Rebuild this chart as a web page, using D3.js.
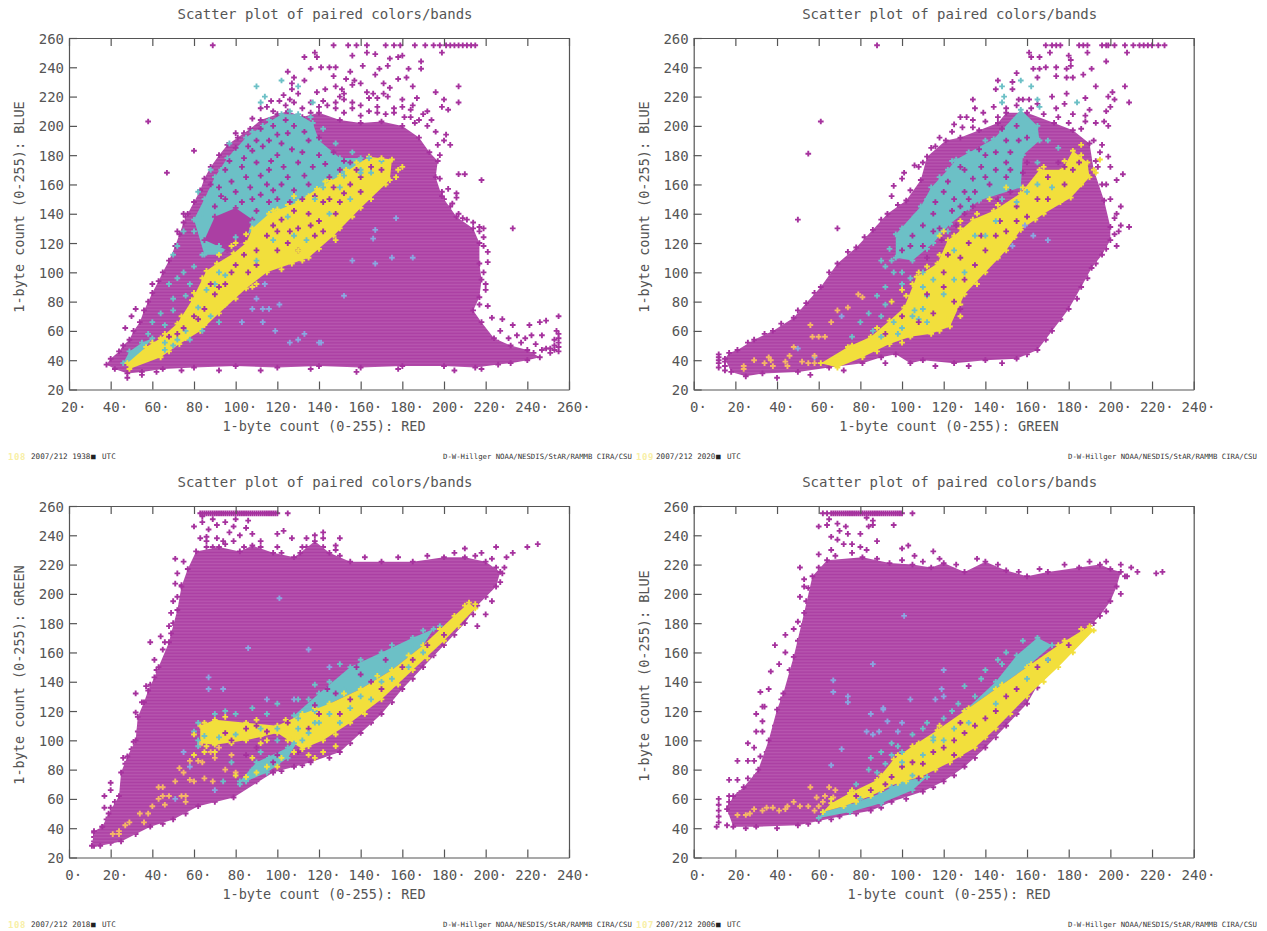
<!DOCTYPE html>
<html>
<head>
<meta charset="utf-8">
<title>Scatter plot of paired colors/bands</title>
<script src="https://cdn.jsdelivr.net/npm/d3@7"></script>
<style>
  html, body { margin: 0; padding: 0; background: #fff; }
  svg { display: block; }
  text { font-family: "DejaVu Sans Mono", monospace; fill: #555; }
</style>
</head>
<body>
<svg width="1267" height="931"></svg>
<script>
// tick labels
const ticks20 = [20, 40, 60, 80, 100, 120, 140, 160, 180, 200, 220, 240, 260];
const ticks0 = [0, 20, 40, 60, 80, 100, 120, 140, 160, 180, 200, 220, 240];
const yTicks = [20, 40, 60, 80, 100, 120, 140, 160, 180, 200, 220, 240, 260];

// ---- RED / BLUE, 1938 UTC ----
const a_purpleOutline = [[38,37],[40,41],[44,46],[46,50],[49,54],[51,60],[54,66],[56,74],[58,80],[60,86],[63,94],[65,100],[68,108],[71,118],[73,126],[75,134],[77,140],[80,148],[83,156],[85,164],[88,172],[92,180],[96,187],[101,192],[107,198],[112,204],[120,208],[125,210],[132,206],[140,209],[150,204],[160,202],[170,203],[180,200],[188,192],[193,182],[197,176],[196,165],[199,152],[206,138],[214,130],[217,120],[217,106],[218,95],[217,83],[214,74],[218,66],[224,55],[232,50],[240,47],[246,42],[240,40],[232,38],[226,37],[215,35],[200,36],[180,36],[160,35],[140,36],[120,35],[100,36],[80,35],[65,34],[55,32],[48,31],[42,34]];
const a_cyanOutline = [[80,136],[85,150],[90,165],[96,178],[105,192],[113,200],[122,208],[130,208],[137,202],[140,190],[150,178],[160,178],[165,172],[150,160],[135,148],[118,138],[108,128],[98,118],[92,112],[85,112]];
const a_cyanFoot = [[46,38],[49,46],[55,52],[60,55],[54,44],[50,38]];
const a_purpleBlotch = [[85,122],[90,138],[100,144],[108,136],[105,122],[96,115]];
const a_yellowOutline = [[48,38],[57,49],[64,55],[72,65],[79,81],[86,101],[91,106],[99,113],[105,120],[108,130],[116,140],[130,148],[139,157],[150,166],[164,179],[175,177],[174,163],[160,144],[147,125],[135,110],[127,106],[115,100],[105,89],[92,72],[83,60],[73,51],[64,42],[49,34]];
const a_purplePts = [[89,255],[58,203],[80,183],[67,168],[133,247],[138,250],[139,247],[136,239],[125,237],[128,233],[133,231],[127,229],[127,225],[130,222],[123,221],[139,223],[126,218],[117,217],[115,213],[121,217],[128,216],[147,255],[154,255],[158,255],[163,255],[172,255],[176,255],[179,255],[186,255],[191,255],[195,255],[198,255],[201,255],[203,255],[205,255],[207,255],[209,255],[211,255],[213,255],[215,255],[163,250],[167,249],[156,248],[180,248],[178,247],[174,246],[189,244],[199,250],[161,241],[173,241],[141,240],[145,240],[148,240],[189,239],[183,239],[169,239],[155,237],[167,235],[147,234],[178,232],[182,233],[153,232],[157,231],[171,229],[160,229],[156,228],[207,227],[148,227],[185,227],[143,225],[151,225],[174,226],[163,223],[171,222],[196,223],[152,222],[166,222],[150,220],[164,219],[173,220],[168,219],[187,219],[180,218],[200,218],[207,216],[185,214],[199,213],[202,211],[152,218],[156,216],[184,211],[176,209],[168,209],[181,206],[192,210],[201,194],[197,187],[203,187],[207,167],[210,167],[198,164],[218,163],[202,157],[199,155],[206,154],[206,151],[204,147],[209,137],[233,130],[219,130],[217,128],[212,129],[221,114],[221,107],[221,77],[223,69],[228,68],[233,64],[241,64],[246,66],[249,67],[255,70],[254,60],[247,57],[242,57],[239,55],[235,57],[227,60],[244,51],[249,48],[255,58],[255,55],[255,52],[255,49],[255,46],[253,54],[253,50],[253,47],[251,48],[251,45],[247,47],[243,45],[237,52],[231,55],[226,52],[75,140],[72,128],[60,92],[42,40]];
const a_purpleEdge = [[132,212],[136,209],[140,213],[144,214],[148,212],[152,209],[156,212],[160,207],[164,210],[168,213],[172,208],[176,212],[180,213],[184,206],[188,204],[192,200],[196,196],[194,204],[190,208],[186,202],[200,190],[198,180],[108,205],[115,203],[104,195],[101,188],[99,181],[83,151],[76,138],[52,75],[50,70],[47,62],[200,150],[203,145],[207,140],[211,136],[214,134],[217,131],[219,124],[219,118],[219,100],[220,92],[220,88],[217,78],[48,28],[55,30],[62,32],[74,33],[92,33],[112,33],[136,34],[158,32],[178,34],[205,33],[218,34],[112,212],[118,210],[124,214],[136,216],[142,217],[148,216],[160,214]];
const a_cyanPts = [[122,231],[110,227],[130,227],[114,220],[112,216],[137,216],[97,188],[88,170],[82,155],[75,128],[72,118],[70,112],[75,100],[72,96],[68,92],[80,104],[84,112],[78,92],[70,82],[76,84],[64,72],[70,74],[60,66],[66,64],[58,58],[86,88],[90,92],[92,100],[82,76],[88,70],[92,66],[84,60],[76,60],[70,50],[78,54],[66,47]];
const a_cyanEdge = [[84,140],[88,155],[93,170],[100,182],[108,196],[116,204],[126,210],[136,206],[142,198],[148,188],[156,182],[164,178],[170,176],[160,170],[152,166],[142,158],[130,152],[118,145],[108,134],[100,124],[92,118],[86,118],[80,128]];
const a_bluePts = [[114,92],[110,82],[121,78],[116,75],[113,75],[108,75],[103,66],[113,66],[119,60],[133,58],[130,54],[126,52],[140,52],[152,84],[156,108],[167,106],[175,110],[185,110],[166,123],[141,52],[177,137],[167,129]];
const a_purpleOnTop = [[95,170],[100,185],[110,190],[118,200],[125,195],[135,190],[110,175],[120,180],[130,175],[140,180],[150,170],[105,165],[115,160],[125,165],[135,160],[100,155],[95,150],[108,150],[120,150],[132,150],[90,145],[110,142],[128,142],[145,165],[155,175],[88,160],[100,195],[112,198],[128,200],[140,192],[122,188],[116,170],[104,178],[92,158],[120,128],[130,130],[135,140],[145,150],[150,148],[125,120],[110,115],[100,105],[95,92],[140,135],[155,160],[160,165],[148,140],[138,125],[115,125],[90,85],[85,75],[160,155],[170,170],[130,115],[80,70],[75,62],[68,56],[88,92],
[97,176],[103,172],[108,183],[113,186],[117,176],[123,172],[127,184],[132,182],[137,172],[143,174],[147,182],[152,176],[93,152],[98,162],[107,158],[112,153],[118,156],[122,160],[128,156],[133,166],[138,152],[142,148],[126,148],[116,148],[103,148],[112,166],[120,194],[116,190],[106,186],[124,204],[133,196],[118,132],[122,136],[126,128],[136,132],[142,128],[152,154],[147,158],[165,172],[158,170],[104,112],[106,100],[98,100],[92,90],[82,68],[72,58],[110,105],[120,115]];
const a_yellowPts = [[172,160],[178,170],[130,115],[127,108],[120,108],[108,90],[100,120],[120,143],[153,170],[143,162],[128,152],[112,108],[95,78],[86,68],[180,172]];
const a_yellowEdge = [[60,52],[66,58],[74,70],[80,86],[84,96],[92,112],[98,118],[110,128],[118,142],[125,146],[135,152],[145,163],[158,175],[170,178],[172,170],[170,160],[156,138],[148,122],[140,116],[132,108],[122,102],[110,92],[100,82],[92,75],[85,64],[76,55],[68,46],[112,132],[105,126],[150,130],[158,148],[165,150],[177,165]];
const a_cyanOnYellow = [[125,138],[138,150],[150,158],[118,122],[128,125],[145,140],[155,150],[160,168],[95,98],[66,52],[72,54],[134,122],[110,108],[165,168]];

// ---- GREEN / BLUE, 2020 UTC ----
const b_purpleOutline = [[15,41],[17,45],[21,47],[29,54],[38,60],[48,69],[54,79],[61,90],[69,106],[78,117],[86,129],[93,140],[102,149],[109,163],[112,179],[121,190],[128,192],[137,197],[146,202],[150,209],[160,209],[173,202],[182,197],[190,188],[192,170],[197,149],[200,131],[200,122],[196,112],[191,103],[186,90],[180,75],[172,60],[165,47],[155,41],[140,40],[125,38],[110,40],[104,38],[97,44],[90,42],[81,38],[65,35],[50,32],[33,31],[25,29],[18,32]];
const b_cyanOutline = [[157,211],[165,200],[166,190],[158,180],[157,158],[137,149],[123,133],[115,120],[105,108],[97,110],[97,126],[109,145],[114,158],[122,170],[126,177],[144,191]];
const b_yellowOutline = [[61,38],[69,35],[81,42],[94,51],[104,56],[114,58],[123,63],[130,85],[140,100],[150,115],[157,129],[168,140],[181,151],[190,165],[189,175],[182,183],[177,170],[166,170],[157,154],[144,142],[134,136],[125,125],[122,122],[117,106],[107,97],[101,76],[94,67],[85,56],[74,49]];
const b_purplePts = [[88,255],[61,203],[55,181],[50,136],[69,130],[106,173],[110,175],[114,185],[101,168],[100,164],[96,159],[95,152],[169,255],[172,255],[174,255],[176,255],[185,255],[187,255],[189,255],[196,255],[198,255],[199,255],[202,255],[207,255],[211,255],[214,255],[216,255],[218,255],[220,255],[223,255],[226,255],[161,250],[162,247],[166,247],[171,250],[180,248],[181,245],[189,250],[198,244],[208,250],[174,240],[181,241],[179,239],[191,239],[163,239],[166,239],[169,240],[155,236],[165,233],[174,234],[179,233],[182,233],[187,235],[146,231],[153,230],[193,227],[207,227],[145,225],[153,225],[201,223],[179,222],[199,220],[202,218],[188,219],[209,216],[134,218],[156,218],[161,218],[172,220],[200,213],[198,210],[144,213],[135,212],[190,211],[128,206],[131,206],[139,209],[188,207],[197,203],[193,202],[125,201],[199,200],[129,199],[134,199],[196,187],[199,179],[200,172],[206,167],[203,163],[205,145],[202,137],[209,131],[12,44],[12,42],[12,40],[12,38],[12,35],[15,36],[15,33],[15,39],[194,150],[196,160],[193,176],[205,132],[204,128],[203,118]];
const b_purpleEdge = [[118,192],[124,196],[116,186],[108,172],[104,156],[98,146],[90,136],[82,124],[74,114],[65,100],[58,86],[50,74],[42,65],[34,58],[26,52],[150,212],[155,214],[162,212],[168,208],[175,206],[180,202],[186,198],[192,190],[195,182],[194,172],[198,160],[200,150],[203,140],[202,126],[198,116],[193,106],[189,96],[184,82],[176,68],[169,54],[160,44],[148,38],[132,36],[116,36],[92,38],[72,33],[56,30],[40,28],[146,206],[140,203],[134,204],[174,212],[182,208],[188,203],[165,215],[158,218],[178,215]];
const b_cyanPts = [[148,227],[149,220],[157,231],[162,227],[165,218],[184,216],[166,213],[148,216],[92,104],[96,100],[100,92],[88,84],[92,90],[84,72],[90,70],[92,78],[80,66],[86,60],[76,56],[96,66],[100,62],[106,74],[108,68],[110,90],[112,84],[170,190],[175,185],[165,175]];
const b_cyanEdge = [[94,116],[100,130],[106,138],[112,150],[118,165],[124,176],[132,182],[140,190],[148,196],[154,204],[160,204],[164,196],[160,186],[155,168],[150,158],[142,150],[132,144],[122,128],[112,116],[104,114],[90,108],[95,108],[100,100],[104,96],[110,100]];
const b_bluePts = [[50,48],[58,42],[71,70],[159,132],[163,125],[170,122],[153,118]];
const b_orangePts = [[29,40],[24,36],[36,42],[34,38],[38,36],[44,39],[45,36],[46,43],[48,49],[52,39],[55,38],[58,43],[58,38],[57,56],[60,56],[56,64],[63,56],[69,74],[74,76],[79,85],[81,83],[66,66],[24,34],[37,40]];
const b_purpleOnTop = [[130,170],[140,180],[150,190],[155,200],[125,150],[135,155],[145,170],[150,165],[115,140],[120,155],[130,140],[105,125],[110,118],[100,115],[150,175],[160,175],[160,192],[142,160],[128,145],[118,130],[112,110],[155,145],[147,135],[138,125],[128,110],[120,100],[112,85],[100,70],[92,58],[170,165],[178,160],[165,150],[160,138],[150,128],[140,115],[130,95],[125,80],[175,175],[182,170],[158,168],
[122,162],[128,172],[134,164],[138,172],[145,182],[152,182],[156,190],[110,132],[116,148],[124,142],[132,150],[140,165],[146,150],[152,155],[104,118],[148,198],[130,155],[119,122],[126,132],[134,145],[152,170],[137,184],[115,128],[122,112],[132,120],[145,125],[155,135],[170,150],[178,172],[185,175],[115,72],[108,66],[120,90],[135,105],[128,75]];
const b_cyanOnYellow = [[125,115],[135,125],[145,135],[155,148],[165,160],[120,85],[110,75],[115,95],[130,100],[148,150],[172,158],[125,95],[140,125],[160,155],[105,70],[112,66],[98,58],[90,56]];
const b_yellowPts = [[195,177],[186,187],[193,168],[95,80],[100,88],[88,62],[118,125],[128,135],[142,150],[150,158],[128,70],[122,68]];
const b_yellowEdge = [[108,100],[112,104],[118,112],[120,128],[128,130],[136,140],[146,146],[158,158],[168,172],[178,176],[186,180],[192,170],[186,160],[176,148],[164,136],[154,124],[146,110],[136,92],[128,78],[118,60],[100,52],[88,46],[76,50],[105,92],[102,84],[110,60],[122,88],[132,108],[142,118]];

// ---- RED / GREEN, 2018 UTC ----
const c_purpleOutline = [[11,28],[12,38],[16,41],[19,50],[24,62],[25,78],[28,89],[32,100],[33,116],[36,126],[38,134],[41,143],[43,150],[48,167],[49,173],[52,189],[54,205],[57,217],[61,229],[72,232],[82,229],[88,233],[98,228],[108,225],[111,228],[118,236],[125,228],[135,222],[150,222],[165,222],[180,225],[190,225],[200,222],[207,215],[205,205],[196,192],[190,180],[180,165],[170,150],[160,135],[150,118],[140,105],[130,92],[116,85],[108,82],[98,78],[79,61],[62,55],[50,46],[39,41],[25,31],[15,28]];
const c_cyanOutline = [[108,117],[120,132],[135,150],[150,160],[165,170],[175,176],[170,165],[155,148],[140,135],[125,125],[110,113]];
const c_cyanLow = [[82,72],[90,85],[105,95],[112,105],[105,88],[95,78],[85,72]];
const c_yellowOutline = [[63,110],[70,114],[85,112],[100,110],[112,118],[125,125],[140,135],[155,148],[170,165],[185,185],[192,194],[195,190],[180,168],[165,148],[150,128],[135,112],[122,100],[112,94],[100,105],[85,100],[70,97],[63,98]];
const c_purplePts = [[60,246],[64,253],[64,249],[69,251],[71,247],[67,244],[63,238],[66,239],[75,249],[79,246],[80,251],[86,250],[85,245],[88,241],[82,240],[77,242],[71,238],[74,236],[79,236],[69,232],[100,241],[103,243],[107,238],[100,232],[51,224],[52,214],[51,207],[54,206],[50,195],[49,187],[48,178],[44,171],[46,167],[39,167],[41,155],[37,137],[32,132],[35,126],[118,240],[114,238],[112,232],[20,71],[20,66],[17,62],[17,54],[20,54],[20,47],[12,37],[12,34],[12,31],[12,28],[16,41],[26,88],[32,119],[31,99],[105,255],[225,234],[220,232],[213,228],[210,225],[205,232],[198,228],[190,231],[130,238],[128,233],[122,242],[205,218],[208,214],[203,195],[200,186],[196,178],
[63,255],[64,255],[65,255],[66,255],[67,255],[68,255],[69,255],[70,255],[71,255],[72,255],[73,255],[74,255],[75,255],[76,255],[77,255],[78,255],[79,255],[80,255],[81,255],[82,255],[83,255],[84,255],[85,255],[86,255],[87,255],[88,255],[89,255],[90,255],[91,255],[92,255],[93,255],[94,255],[95,255],[96,255],[97,255],[98,255],[99,255],[100,255]];
const c_purpleEdge = [[55,222],[52,198],[50,180],[45,162],[42,148],[39,138],[36,120],[33,106],[30,94],[27,84],[26,70],[22,58],[18,46],[14,36],[66,232],[75,234],[84,232],[92,232],[102,228],[114,232],[122,232],[130,226],[142,225],[158,225],[172,226],[185,228],[195,226],[203,224],[209,218],[207,208],[200,198],[194,186],[185,172],[175,158],[165,142],[155,126],[145,112],[135,98],[125,88],[112,83],[102,79],[90,72],[70,58],[56,50],[45,43],[32,36],[20,30],[122,238],[128,230],[66,236],[92,236]];
const c_cyanPts = [[62,112],[60,106],[62,100],[70,118],[75,120],[80,118],[88,122],[95,118],[100,125],[110,128],[118,138],[130,152],[62,96],[100,100],[110,108],[120,112],[92,92],[88,80],[78,85],[74,72],[82,70]];
const c_cyanEdge = [[115,128],[125,140],[140,155],[155,165],[170,175],[178,178],[165,162],[150,150],[132,135],[118,120],[90,78],[96,88],[108,98],[112,100],[100,84],[94,82],[86,74]];
const c_bluePts = [[101,197],[86,163],[67,143],[67,135],[74,135],[55,92],[58,82],[51,60],[70,66],[115,162],[125,150],[108,128],[95,128]];
const c_orangePts = [[43,68],[45,68],[43,60],[45,62],[46,56],[40,55],[48,62],[34,50],[38,50],[36,44],[29,44],[27,42],[24,38],[21,36],[24,36],[51,72],[53,81],[55,78],[58,86],[62,86],[64,85],[58,73],[60,72],[65,74],[69,72],[54,62],[56,62],[56,58],[63,97],[68,92],[70,88],[75,80],[80,78],[78,90],[72,95]];
const c_purpleOnTop = [[75,105],[85,108],[95,106],[105,112],[120,118],[135,128],[145,140],[160,150],[172,165],[130,118],[115,108],[150,135],[165,155],[180,172],[90,95],[100,90],[110,92],[98,85],[85,90],[78,100],[90,110],[118,124],[128,132],[140,145],[152,155],[124,135],[138,150]];
const c_cyanOnYellow = [[80,104],[92,108],[110,115],[125,118],[140,130],[155,142],[170,160],[145,128],[130,112],[72,102],[115,105],[65,103],[100,108],[118,112],[135,122],[150,140],[163,150]];
const c_yellowPts = [[195,193],[80,76],[85,75],[90,78],[95,82],[102,88],[108,92],[100,82],[88,88],[92,98],[105,100],[115,90],[122,92],[128,96],[118,88],[70,92],[65,92],[60,90]];
const c_yellowEdge = [[60,104],[65,112],[75,116],[90,114],[104,114],[118,122],[132,132],[148,144],[163,158],[178,176],[190,192],[187,178],[172,156],[158,138],[142,118],[128,104],[115,96],[108,102],[92,103],[78,98],[66,96],[95,100],[128,118]];

// ---- RED / BLUE, 2006 UTC ----
const d_purpleOutline = [[19,41],[16,53],[19,62],[24,68],[31,80],[36,100],[40,121],[43,132],[48,157],[53,187],[57,212],[64,223],[81,225],[94,221],[105,220],[114,218],[120,221],[130,215],[140,222],[150,216],[160,212],[170,215],[185,218],[195,220],[200,217],[205,215],[203,205],[200,195],[195,185],[190,178],[180,165],[170,150],[160,125],[150,110],[140,95],[130,82],[120,72],[110,65],[95,58],[85,52],[70,48],[60,45],[50,42],[30,41]];
const d_cyanLow = [[60,47],[75,51],[90,57],[105,66],[112,75],[100,72],[90,64],[75,56],[62,51]];
const d_cyanUp = [[130,120],[145,140],[155,158],[165,170],[172,165],[160,150],[145,135],[130,120]];
const d_yellowOutline = [[62,51],[72,55],[85,62],[98,71],[109,75],[123,85],[135,95],[145,108],[160,130],[175,150],[192,175],[190,178],[175,165],[160,150],[145,135],[130,120],[117,107],[105,96],[96,87],[88,73],[75,64],[66,57]];
const d_purplePts = [[105,255],[96,247],[86,250],[86,247],[83,252],[84,246],[88,236],[60,246],[64,247],[65,251],[69,248],[70,243],[73,246],[74,241],[66,239],[80,241],[69,237],[72,234],[76,234],[80,232],[83,230],[66,230],[60,227],[51,218],[53,210],[53,205],[51,198],[54,195],[50,181],[44,172],[48,176],[39,165],[44,160],[41,152],[37,147],[32,133],[36,135],[34,123],[103,233],[100,231],[115,229],[106,226],[30,118],[33,123],[33,113],[30,106],[33,106],[26,98],[29,95],[21,86],[26,86],[29,86],[32,89],[17,73],[21,73],[12,60],[12,56],[12,52],[12,48],[12,44],[11,41],[16,42],[17,62],[17,58],[17,55],[205,220],[210,218],[213,215],[208,212],[222,214],[225,215],
[62,255],[64,255],[66,255],[67,255],[68,255],[69,255],[70,255],[71,255],[72,255],[73,255],[74,255],[75,255],[76,255],[77,255],[78,255],[79,255],[80,255],[81,255],[82,255],[83,255],[84,255],[85,255],[86,255],[87,255],[88,255],[89,255],[90,255],[91,255],[92,255],[93,255],[94,255],[95,255],[96,255],[97,255],[98,255],[99,255],[100,255]];
const d_purpleEdge = [[60,218],[55,204],[52,178],[50,168],[46,148],[42,128],[39,110],[35,92],[30,76],[26,74],[22,64],[18,50],[68,226],[76,228],[88,224],[100,223],[110,222],[118,224],[126,220],[136,224],[146,220],[156,215],[166,217],[178,220],[190,222],[198,222],[207,212],[205,200],[198,188],[192,180],[184,170],[175,158],[165,136],[155,118],[145,102],[135,88],[125,76],[115,68],[102,60],[90,54],[78,50],[66,46],[55,43],[40,40],[25,40]];
const d_bluePts = [[66,83],[71,94],[74,126],[85,118],[93,113],[83,106],[86,104],[89,106],[98,106],[91,121],[100,112],[101,185],[86,152],[67,141],[67,133],[74,130],[120,148],[119,135],[116,128],[104,128],[120,130],[91,122]];
const d_cyanPts = [[85,88],[90,92],[95,90],[100,92],[105,104],[110,108],[120,115],[127,125],[135,130],[95,98],[88,78],[78,70],[84,80],[115,100],[130,137],[140,148],[150,160],[158,168],[148,152],[92,84],[98,96],[112,112],[124,120],[138,142],[146,155]];
const d_orangePts = [[21,49],[25,49],[29,53],[35,54],[38,54],[44,53],[45,55],[48,58],[51,55],[55,55],[56,68],[59,61],[60,55],[65,68],[68,66],[67,61],[58,52],[62,58],[63,62],[33,52],[41,52],[27,50]];
const d_purpleOnTop = [[85,66],[95,75],[105,85],[115,92],[125,100],[135,110],[145,120],[155,135],[170,155],[180,165],[100,82],[120,95],[130,105],[140,115],[78,62],[92,70],[110,84],[128,112],[150,130],[165,150],[108,74],[125,90]];
const d_cyanOnYellow = [[100,85],[110,90],[120,100],[132,112],[145,125],[160,142],[170,155],[115,102],[125,108],[95,68],[80,60],[105,76]];
const d_yellowEdge = [[66,60],[76,66],[90,76],[98,90],[108,98],[118,110],[132,122],[148,138],[162,152],[178,168],[186,176],[182,160],[168,140],[152,118],[140,102],[128,90],[116,80],[102,72],[90,66],[78,58]];

// footer and axis text
const redLabel = "1-byte count (0-255): RED";
const greenLabel = "1-byte count (0-255): GREEN";
const blueLabel = "1-byte count (0-255): BLUE";
const titleText = "Scatter plot of paired colors/bands";
const credit = "D-W-Hillger NOAA/NESDIS/StAR/RAMMB CIRA/CSU";

const purple = "#ab3fa3";
const pointPurple = "#a6329e";
const cyan = "#6cc0c6";
const yellow = "#f2df3c";
const blue = "#8aa6e0";
const orange = "#f5b765";
const ink = "#555";

const panels = [
  { left: 69, top: 38, xDomain: [20, 260], xTicks: ticks20, xLabel: redLabel, xLabelMid: 324, yLabel: blueLabel, yLabelX: 24, yLabelMid: 207,
    tag: "108", stamp: "2007/212 1938", tagX: 8, stampX: 31, creditX: 443,
    areas: [[a_purpleOutline, "dense"], [a_cyanOutline, cyan], [a_cyanFoot, cyan], [a_purpleBlotch, purple], [a_yellowOutline, yellow]],
    before: [[a_purplePts, pointPurple], [a_purpleEdge, pointPurple], [a_cyanPts, cyan], [a_cyanEdge, cyan], [a_bluePts, blue]],
    after: [[a_yellowEdge, yellow], [a_purpleOnTop, pointPurple], [a_yellowPts, yellow], [a_cyanOnYellow, cyan]] },
  { left: 693.7, top: 38, xDomain: [0, 240], xTicks: ticks0, xLabel: greenLabel, xLabelMid: 949, yLabel: blueLabel, yLabelX: 649, yLabelMid: 207,
    tag: "109", stamp: "2007/212 2020", tagX: 636, stampX: 656, creditX: 1068,
    areas: [[b_purpleOutline, "dense"], [b_cyanOutline, cyan], [b_yellowOutline, yellow]],
    before: [[b_purplePts, pointPurple], [b_purpleEdge, pointPurple], [b_cyanPts, cyan], [b_cyanEdge, cyan], [b_bluePts, blue], [b_orangePts, orange]],
    after: [[b_yellowEdge, yellow], [b_purpleOnTop, pointPurple], [b_cyanOnYellow, cyan], [b_yellowPts, yellow]] },
  { left: 69, top: 506, xDomain: [0, 240], xTicks: ticks0, xLabel: redLabel, xLabelMid: 324, yLabel: greenLabel, yLabelX: 24, yLabelMid: 675,
    tag: "108", stamp: "2007/212 2018", tagX: 8, stampX: 31, creditX: 443,
    areas: [[c_purpleOutline, "dense"], [c_cyanOutline, cyan], [c_cyanLow, cyan], [c_yellowOutline, yellow]],
    before: [[c_purplePts, pointPurple], [c_purpleEdge, pointPurple], [c_bluePts, blue], [c_orangePts, orange]],
    after: [[c_cyanPts, cyan], [c_cyanEdge, cyan], [c_yellowEdge, yellow], [c_purpleOnTop, pointPurple], [c_cyanOnYellow, cyan], [c_yellowPts, yellow]] },
  { left: 693.7, top: 506, xDomain: [0, 240], xTicks: ticks0, xLabel: redLabel, xLabelMid: 949, yLabel: blueLabel, yLabelX: 649, yLabelMid: 676,
    tag: "107", stamp: "2007/212 2006", tagX: 636, stampX: 656, creditX: 1068,
    areas: [[d_purpleOutline, "dense"], [d_cyanLow, cyan], [d_cyanUp, cyan], [d_yellowOutline, yellow]],
    before: [[d_purplePts, pointPurple], [d_purpleEdge, pointPurple], [d_bluePts, blue], [d_orangePts, orange], [d_cyanPts, cyan]],
    after: [[d_yellowEdge, yellow], [d_purpleOnTop, pointPurple], [d_cyanOnYellow, cyan]] }
];

const svg = d3.select("svg");
const plotWidth = 500;
const plotHeight = 351.5;

// fine lattice of the + marks inside the solid purple cloud
const pattern = svg.append("defs").append("pattern")
  .attr("id", "dense").attr("patternUnits", "userSpaceOnUse")
  .attr("width", 2.083).attr("height", 1.465);
pattern.append("rect").attr("width", 2.083).attr("height", 1.465).attr("fill", purple);
pattern.append("rect").attr("width", 2.083).attr("height", 0.3).attr("fill", "#c878c0");

const cross = d3.symbol().type(d3.symbolCross).size(18)();

function drawPoints(g, pts, color, x, y) {
  g.append("g").selectAll("path").data(pts).join("path")
    .attr("d", cross)
    .attr("transform", d => `translate(${x(d[0])},${y(d[1])})`)
    .attr("fill", color);
}

function styleAxis(axis) {
  axis.selectAll("path, line").attr("stroke", ink).attr("stroke-width", 1.2);
  axis.selectAll("text").attr("font-size", 14).attr("fill", ink);
}

panels.forEach(p => {
  const x = d3.scaleLinear().domain(p.xDomain).range([0, plotWidth]);
  const y = d3.scaleLinear().domain([20, 260]).range([plotHeight, 0]);
  const g = svg.append("g").attr("transform", `translate(${p.left},${p.top})`);
  const line = d3.line().x(d => x(d[0])).y(d => y(d[1])).curve(d3.curveLinearClosed);

  drawPoints(g, p.before[0][0], p.before[0][1], x, y);
  drawPoints(g, p.before[1][0], p.before[1][1], x, y);

  p.areas.forEach(([outline, color]) => {
    g.append("path").attr("d", line(outline))
      .attr("fill", color === "dense" ? "url(#dense)" : color);
    // rough edge: a + mark on each outline vertex
    drawPoints(g, outline, color === "dense" ? pointPurple : color, x, y);
  });
  p.before.slice(2).forEach(([pts, color]) => drawPoints(g, pts, color, x, y));
  p.after.forEach(([pts, color]) => drawPoints(g, pts, color, x, y));

  // axes: ticks point inward, no ticks on the right
  const bottom = g.append("g").attr("transform", `translate(0,${plotHeight})`)
    .call(d3.axisBottom(x).tickValues(p.xTicks).tickSizeInner(-8).tickSizeOuter(0).tickPadding(12.8));
  styleAxis(bottom);
  bottom.selectAll(".tick text")
    .attr("text-anchor", "start")
    .attr("x", d => -String(d).length * 4.2)
    .text(d => d + "·");
  const top = g.append("g").call(d3.axisTop(x).tickValues(p.xTicks).tickSizeInner(-8).tickSizeOuter(0).tickFormat(""));
  styleAxis(top);
  const left = g.append("g").call(d3.axisLeft(y).tickValues(yTicks).tickSizeInner(-8).tickSizeOuter(0).tickPadding(5));
  styleAxis(left);
  left.selectAll(".tick text").attr("dy", "0.36em");
  const right = g.append("g").attr("transform", `translate(${plotWidth},0)`)
    .call(d3.axisRight(y).tickValues([]).tickSizeOuter(0));
  styleAxis(right);

  // titles
  svg.append("text").attr("x", p.left + 256).attr("y", p.top - 19)
    .attr("text-anchor", "middle").attr("font-size", 14).text(titleText);
  svg.append("text").attr("x", p.xLabelMid).attr("y", p.top + plotHeight + 41)
    .attr("text-anchor", "middle").attr("font-size", 13.5).text(p.xLabel);
  svg.append("text").attr("text-anchor", "middle").attr("font-size", 13.5)
    .attr("transform", `translate(${p.yLabelX},${p.yLabelMid}) rotate(-90)`).text(p.yLabel);

  // footer strip
  const fy = p.top + plotHeight + 69;
  svg.append("text").attr("x", p.tagX).attr("y", fy + 1).attr("font-size", 9).attr("font-weight", "bold")
    .attr("letter-spacing", 0.6).style("fill", "#f8efa6").text(p.tag);
  svg.append("text").attr("x", p.stampX).attr("y", fy).attr("font-size", 7.6).style("fill", "#333").text(p.stamp);
  svg.append("text").attr("x", p.stampX + 60).attr("y", fy).attr("font-size", 7.6).style("fill", "#222").text("■");
  svg.append("text").attr("x", p.stampX + 71).attr("y", fy).attr("font-size", 7.6).style("fill", "#333").text("UTC");
  svg.append("text").attr("x", p.creditX).attr("y", fy).attr("font-size", 7.3).style("fill", "#333").text(credit);
});
</script>
</body>
</html>
